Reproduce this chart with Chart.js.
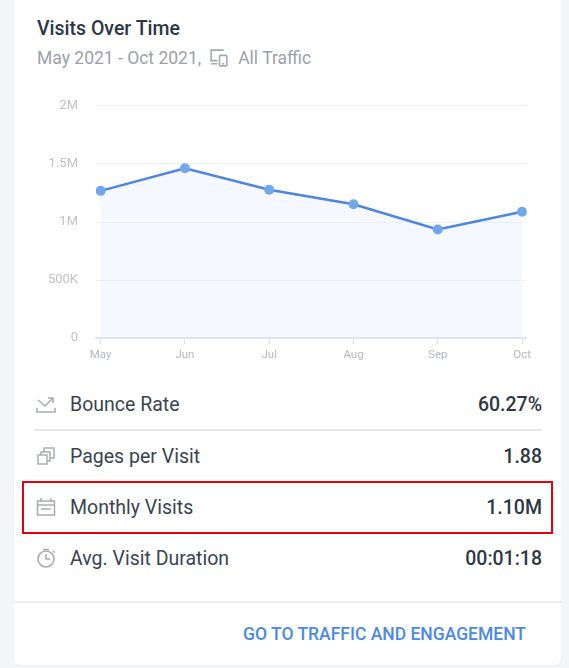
<!DOCTYPE html>
<html>
<head>
<meta charset="utf-8">
<script src="https://cdn.jsdelivr.net/npm/chart.js@4"></script>
<style>
  body { margin: 0; background: #f3f6f9; font-family: Roboto, sans-serif; width: 569px; height: 668px; overflow: hidden; position: relative; }
  .card { position: absolute; left: 14px; top: -4px; width: 547px; height: 669px; background: #fff; border-radius: 6px; box-shadow: 0 0 2px rgba(0,0,0,0.06); }
  .title { position: absolute; left: 37px; top: 17px; font-size: 19.5px; font-weight: 500; color: #2b3647; }
  .sub { position: absolute; left: 37px; top: 47px; font-size: 17.5px; color: #9aa1aa; display: flex; align-items: center; }
  .sub svg { margin: 0 8px 0 8px; }
  .chartbox { position: absolute; left: 30px; top: 80px; width: 505px; height: 284px; }
  .row { position: absolute; left: 34px; width: 508px; height: 30px; display: flex; align-items: center; font-size: 19.5px; color: #3a4351; }
  .row svg { margin-left: 2px; margin-right: 14px; }
  .row .val { margin-left: auto; font-weight: 500; color: #2f3744; }
  .sep { position: absolute; left: 34px; width: 508px; top: 429px; height: 2px; background: #e6e8ec; }
  .box { position: absolute; left: 22px; top: 481px; width: 527px; height: 49px; border: 2.5px solid #e3000f; }
  .foot { position: absolute; left: 14px; width: 547px; top: 601px; height: 2px; background: #eceef1; }
  .link { position: absolute; right: 43px; top: 624px; font-size: 17.5px; font-weight: 500; color: #4a89e8; }
</style>
</head>
<body>
<div class="card"></div>
<div class="title">Visits Over Time</div>
<div class="sub">May 2021 - Oct 2021,<svg width="21" height="21" viewBox="0 0 20 20" fill="none" stroke="#a3a8b0" stroke-width="1.5"><path d="M14 3H2v10h6M2 16h6"/><rect x="10" y="8" width="7" height="10" rx="1"/><path d="M12.5 16h2"/></svg>All Traffic</div>

<div class="chartbox"><canvas id="visitsChart"></canvas></div>

<div class="row" style="top:389px"><svg width="20" height="20" viewBox="0 0 20 20" fill="none" stroke="#a9adb3" stroke-width="1.6"><path d="M2 6l7 6 8-8M12 4h5v5"/><path d="M1 14v4h18v-4"/></svg>Bounce Rate<span class="val">60.27%</span></div>
<div class="sep"></div>
<div class="row" style="top:441px"><svg width="20" height="20" viewBox="0 0 20 20" fill="none" stroke="#a9adb3" stroke-width="1.5"><rect x="2" y="9" width="9" height="9"/><path d="M5 9V6h9v9h-3"/><path d="M8 6V2h10v10h-4"/></svg>Pages per Visit<span class="val">1.88</span></div>
<div class="row" style="top:492px"><svg width="20" height="20" viewBox="0 0 20 20" fill="none" stroke="#a9adb3" stroke-width="1.5"><rect x="1.5" y="4" width="17" height="14"/><path d="M5 1v4M15 1v4M1.5 8h17M5 12h10"/></svg>Monthly Visits<span class="val">1.10M</span></div>
<div class="row" style="top:543px"><svg width="20" height="20" viewBox="0 0 20 20" fill="none" stroke="#a9adb3" stroke-width="1.6"><circle cx="10" cy="11" r="8"/><path d="M10 6v5h4M7 1.5h6M17 3l1.5 1.5"/></svg>Avg. Visit Duration<span class="val">00:01:18</span></div>
<div class="box"></div>
<div class="foot"></div>
<div class="link">GO TO TRAFFIC AND ENGAGEMENT</div>

<script>
// monthly visits
const months = ['May', 'Jun', 'Jul', 'Aug', 'Sep', 'Oct'];
const visits = [1268000, 1463000, 1277000, 1153000, 935000, 1088000];
const yTicks = [0, 500000, 1000000, 1500000, 2000000];

function fmt(v) {
    if (v === 0) return '0';
    if (v >= 1000000) return (v / 1000000) + 'M';
    return (v / 1000) + 'K';
}

const ctx = document.getElementById('visitsChart').getContext('2d');
new Chart(ctx, {
    type: 'line',
    data: {
        datasets: [{
            data: visits.map((v, i) => ({ x: i, y: v })),
            borderColor: '#4e85df',
            borderWidth: 2.5,
            backgroundColor: 'rgba(226, 235, 251, 0.35)',
            fill: 'origin',
            tension: 0,
            pointRadius: 5,
            pointBackgroundColor: '#71a7ec',
            pointBorderColor: '#71a7ec',
            pointBorderWidth: 0
        }]
    },
    options: {
        responsive: true,
        maintainAspectRatio: false,
        animation: false,
        layout: { padding: { top: 10, right: 7, bottom: 0, left: 0 } },
        plugins: {
            legend: { display: false },
            tooltip: { enabled: false }
        },
        scales: {
            x: {
                type: 'linear',
                min: -0.055,
                max: 5.055,
                afterBuildTicks: axis => { axis.ticks = months.map((m, i) => ({ value: i })); },
                afterFit: axis => { axis.height = 25; },
                grid: {
                    drawOnChartArea: false,
                    drawTicks: true,
                    tickLength: 6,
                    color: '#dcdfec'
                },
                border: { color: '#dcdfec', width: 1.5 },
                ticks: {
                    color: '#b4b8c0',
                    font: { family: 'Roboto', size: 11.5 },
                    padding: 4,
                    maxRotation: 0,
                    autoSkip: false,
                    callback: v => months[v]
                }
            },
            y: {
                min: 0,
                max: 2000000,
                afterBuildTicks: axis => { axis.ticks = yTicks.map(v => ({ value: v })); },
                afterFit: axis => { axis.width = 66; },
                grid: {
                    color: '#eef0f4',
                    drawTicks: false
                },
                border: { display: false },
                ticks: {
                    color: '#bfc2c8',
                    font: { family: 'Roboto', size: 13 },
                    padding: 18,
                    callback: v => fmt(v)
                }
            }
        }
    }
});
</script>
</body>
</html>
